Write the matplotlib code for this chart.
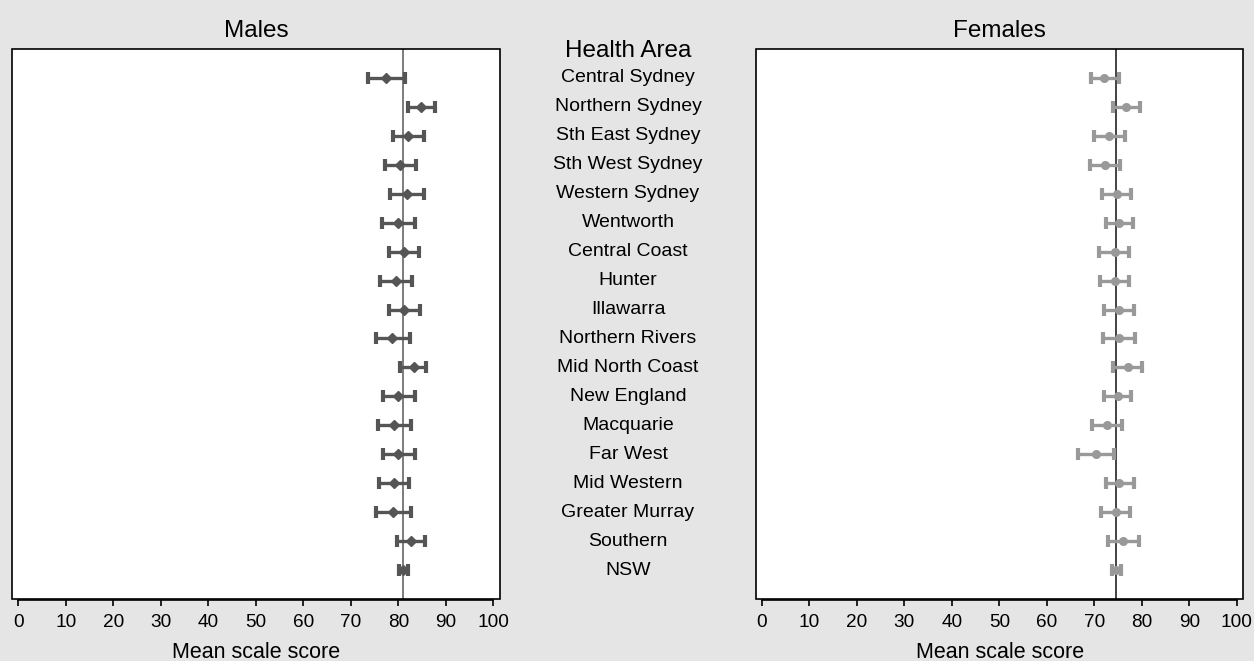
import matplotlib.pyplot as plt
from matplotlib.patches import Rectangle

plt.rcParams['font.family'] = ['Liberation Sans', 'DejaVu Sans']

areas = ['Central Sydney', 'Northern Sydney', 'Sth East Sydney', 'Sth West Sydney',
         'Western Sydney', 'Wentworth', 'Central Coast', 'Hunter', 'Illawarra',
         'Northern Rivers', 'Mid North Coast', 'New England', 'Macquarie',
         'Far West', 'Mid Western', 'Greater Murray', 'Southern', 'NSW']

male_mean = [77.4, 84.8, 82.0, 80.4, 81.8, 79.9, 81.2, 79.5, 81.2, 78.7,
             83.2, 80.0, 79.0, 80.0, 79.0, 78.8, 82.6, 81.05]
male_lo = [73.5, 82.0, 78.8, 77.1, 78.3, 76.6, 78.0, 76.2, 78.0, 75.2,
           80.4, 76.7, 75.6, 76.7, 76.0, 75.2, 79.8, 80.1]
male_hi = [81.3, 87.6, 85.3, 83.7, 85.3, 83.4, 84.4, 82.9, 84.6, 82.4,
           85.9, 83.5, 82.6, 83.5, 82.2, 82.6, 85.6, 82.0]

female_mean = [72.1, 76.7, 73.1, 72.3, 74.7, 75.3, 74.3, 74.4, 75.2, 75.1,
               77.1, 74.9, 72.7, 70.3, 75.3, 74.5, 76.1, 74.6]
female_lo = [69.3, 73.9, 70.0, 69.1, 71.6, 72.4, 71.0, 71.3, 72.0, 71.9,
             74.0, 72.1, 69.5, 66.5, 72.4, 71.5, 72.8, 73.7]
female_hi = [75.2, 79.6, 76.4, 75.4, 77.8, 78.2, 77.4, 77.4, 78.3, 78.5,
             80.1, 77.8, 75.9, 74.2, 78.3, 77.6, 79.4, 75.6]

ticks = list(range(0, 101, 10))
bg = '#e5e5e5'

fig = plt.figure(figsize=(12.54, 6.61), dpi=100, facecolor=bg)
ax_m = fig.add_axes([0.0098, 0.0938, 0.389, 0.832])
ax_f = fig.add_axes([0.6026, 0.0938, 0.389, 0.832])
ax_mid = fig.add_axes([0.399, 0.0938, 0.2036, 0.832])

pos = list(range(len(areas)))


def panel(ax, mean, lo, hi, colour, marker, msize, refcolour, title):
    ax.set_facecolor('white')
    ax.axvline(mean[-1], color=refcolour, lw=1.2, zorder=1)
    err = [[m - l for m, l in zip(mean, lo)], [h - m for m, h in zip(mean, hi)]]
    ax.errorbar(mean, pos, xerr=err, fmt=marker, color=colour, ms=msize,
                elinewidth=2.4, capsize=4.6, capthick=3.0, zorder=3)
    ax.set_xlim(-1.3, 101.4)
    ax.set_ylim(18, -1)
    ax.set_yticks([])
    ax.set_xticks(ticks)
    ax.tick_params(axis='x', labelsize=13.7, length=4, width=1.2, pad=6)
    for side in ['top', 'left', 'right']:
        ax.spines[side].set_visible(False)
    ax.spines['bottom'].set_position(('outward', 1))
    ax.spines['bottom'].set_bounds(0, 100)
    ax.spines['bottom'].set_linewidth(1.2)
    ax.add_patch(Rectangle((0, 0), 1, 1, transform=ax.transAxes, fill=False,
                           ec='black', lw=1.2, clip_on=False, zorder=5))
    ax.set_xlabel('Mean scale score', fontsize=15.5, labelpad=8)
    ax.set_title(title, fontsize=17.5, pad=9)


panel(ax_m, male_mean, male_lo, male_hi, '#555555', 'D', 5, '#666666', 'Males')
panel(ax_f, female_mean, female_lo, female_hi, '#999999', 'o', 5.5, '#222222', 'Females')

# Health area names between the two panels
ax_mid.set_ylim(18, -1)
ax_mid.set_xlim(0, 1)
ax_mid.axis('off')
for y, name in zip(pos, areas):
    ax_mid.text(0.5, y, name, ha='center', va='center', fontsize=14)
ax_mid.text(0.5, -0.93, 'Health Area', ha='center', va='center', fontsize=17.5)

plt.savefig('out.png', dpi=100, facecolor=bg)
